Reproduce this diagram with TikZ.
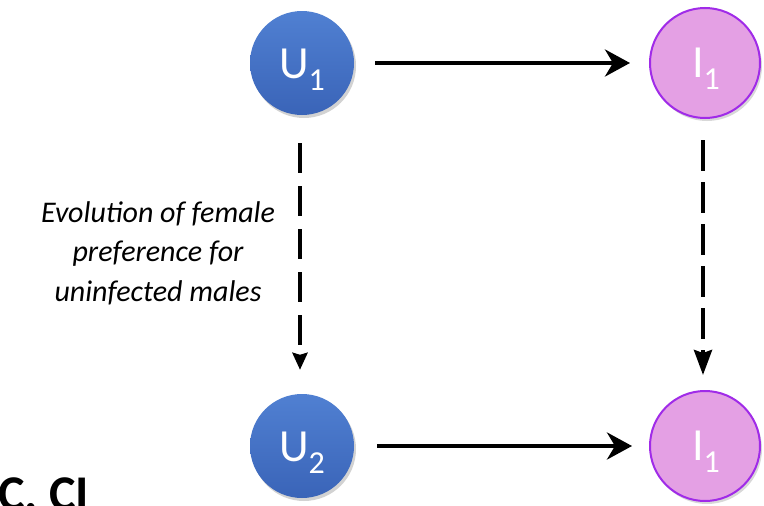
\documentclass[tikz,border=0pt]{standalone}
\usepackage{fontspec}
\setmainfont{Carlito}
\usetikzlibrary{arrows.meta,shadows,calc}
\definecolor{utop}{HTML}{5080D2}
\definecolor{ubot}{HTML}{3A64B8}
\definecolor{ifill}{HTML}{E4A0E4}
\definecolor{iedge}{HTML}{A02BE8}
\newcommand{\subtxt}[1]{\raisebox{-12pt}{\fontsize{32}{32}\selectfont #1}}
\begin{document}
\begin{tikzpicture}[x=1pt,y=-1pt,
  ucirc/.style={circle,minimum size=104pt,inner sep=0pt,top color=utop,bottom color=ubot,
    drop shadow={opacity=0.35,shadow xshift=2pt,shadow yshift=-3pt}},
  icirc/.style={circle,minimum size=110pt,inner sep=0pt,fill=ifill,draw=iedge,line width=2pt,
    drop shadow={opacity=0.3,shadow xshift=2pt,shadow yshift=-3pt}},
  lbl/.style={text=white,font=\fontsize{46}{50}\selectfont,anchor=base,inner sep=0pt},
  harrow/.style={line width=4pt,-{Stealth[length=25pt,width=27pt,inset=8pt]}},
  lvarrow/.style={line width=4pt,dash pattern=on 30pt off 13pt,-{Stealth[length=17pt,width=15pt,inset=2pt]}},
  rvarrow/.style={line width=4pt,dash pattern=on 31pt off 11pt,-{Stealth[length=25pt,width=18pt,inset=3pt]}},
  desc/.style={align=center,font=\itshape\fontsize{30}{39.5}\selectfont,inner sep=0pt}]
\useasboundingbox (0,0) rectangle (764,506);
\clip (0,0) rectangle (764,506);
\fill[white] (0,0) rectangle (764,506);

\node[ucirc] (U1) at (302,63) {};
\node[icirc] (I1) at (705,63) {};
\node[ucirc] (U2) at (302,446) {};
\node[icirc] (I2) at (705,446) {};

\node[lbl] (U1t) at ([yshift=-15pt]U1.center) {U\subtxt{1}};
\node[lbl] (I1t) at ([yshift=-14pt,xshift=1pt]I1.center) {I\subtxt{1}};
\node[lbl] (U2t) at ([yshift=-15pt]U2.center) {U\subtxt{2}};
\node[lbl] (I2t) at ([yshift=-14pt,xshift=1pt]I2.center) {I\subtxt{1}};

\draw[harrow,shorten <=21pt,shorten >=19pt] (U1) -- (I1);
\draw[harrow,shorten <=23pt,shorten >=17pt] (U2) -- (I2);

\draw[lvarrow,shorten <=28pt,shorten >=24pt] ([xshift=-2pt]U1.south) -- ([xshift=-2pt]U2.north);
\draw[rvarrow,shorten <=21pt,shorten >=15pt] ([xshift=-2pt]I1.south) -- ([xshift=-2pt]I2.north);

\node[desc] (txt) at (158,253) {Evolution of female\\preference for\\uninfected males};
\node[font=\bfseries\fontsize{50}{50}\selectfont,anchor=base west,inner sep=0pt] (lab) at (-2,510) {C. CI};
\end{tikzpicture}
\end{document}
